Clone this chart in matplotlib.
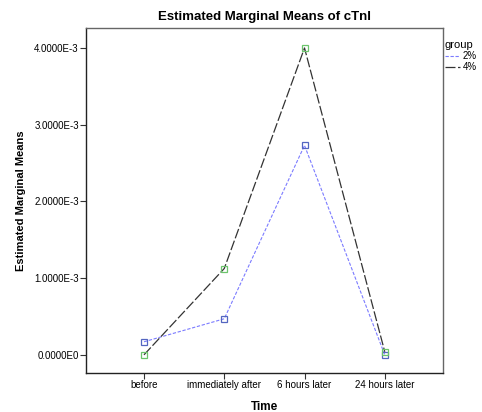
import matplotlib.pyplot as plt

plt.rcParams['font.family'] = ['Liberation Sans', 'DejaVu Sans']

# Data
times = ['before', 'immediately after', '6 hours later', '24 hours later']
means_2pct = [0.17e-3, 0.47e-3, 2.73e-3, 0.0]
means_4pct = [0.0, 1.125e-3, 4.0e-3, 0.04e-3]
y_ticks = [0.0, 1e-3, 2e-3, 3e-3, 4e-3]
y_tick_labels = ['0.0000E0', '1.0000E-3', '2.0000E-3', '3.0000E-3', '4.0000E-3']

fig = plt.figure(figsize=(4.82, 4.12), dpi=100)
ax = fig.add_axes([0.178, 0.095, 0.741, 0.837])

x = range(len(times))
ax.plot(x, means_2pct, color='#7b7bff', linestyle=(0, (3, 1.5)), linewidth=0.8,
        marker='s', markersize=5, markerfacecolor='none', markeredgecolor='#5466c0',
        markeredgewidth=0.9, label='2%')
ax.plot(x, means_4pct, color='#333333', linestyle=(0, (8, 2)), linewidth=0.9,
        marker='s', markersize=5, markerfacecolor='none', markeredgecolor='#6cc46c',
        markeredgewidth=0.9, label='4%')

ax.set_xlim(-0.725, 3.725)
ax.set_ylim(-0.235e-3, 4.26e-3)
ax.set_xticks(list(x))
ax.set_xticklabels(times, fontsize=7)
ax.set_yticks(y_ticks)
ax.set_yticklabels(y_tick_labels, fontsize=7)
ax.tick_params(direction='out', length=4, width=0.8, color='#333333', pad=1)

for side in ['left', 'bottom']:
    ax.spines[side].set_color('#222222')
for side in ['top', 'right']:
    ax.spines[side].set_color('#666666')
for s in ax.spines.values():
    s.set_linewidth(1.0)

ax.set_title('Estimated Marginal Means of cTnI', fontsize=9.5, fontweight='bold', pad=6)
ax.set_xlabel('Time', fontsize=8.5, fontweight='bold', labelpad=8)
ax.set_ylabel('Estimated Marginal Means', fontsize=8, fontweight='bold', labelpad=6)

leg = ax.legend(title='group', loc='upper left', bbox_to_anchor=(1.0, 0.97),
                frameon=False, fontsize=7, title_fontsize=8, handlelength=1.6,
                handletextpad=0.2, borderaxespad=0.1, labelspacing=0.1,
                borderpad=0.1)
for h in leg.legend_handles:
    h.set_marker('')
leg._legend_box.align = 'left'

fig.savefig('out.png', dpi=100)
